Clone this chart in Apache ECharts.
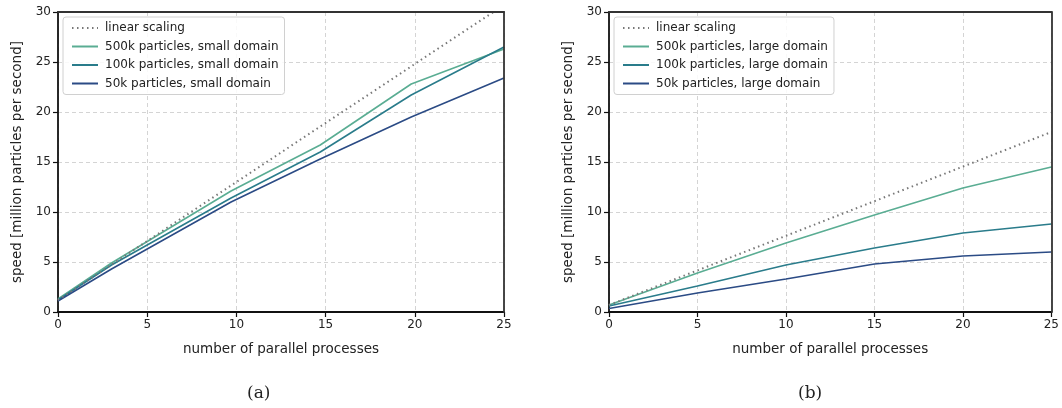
<!DOCTYPE html>
<html>
<head>
<meta charset="utf-8">
<script src="https://cdn.jsdelivr.net/npm/echarts@6/dist/echarts.min.js"></script>
<style>
  html, body { margin: 0; padding: 0; background: #fff; }
  #chart { width: 1062px; height: 408px; }
</style>
</head>
<body>
<div id="chart"></div>
<script>
// Number of parallel processes at each measurement
const procsSmall = [0, 3, 9.7, 14.7, 19.8, 25];
const procsLarge = [0, 5, 10, 15, 20, 25];

// Ideal scaling reference (start and end of the straight line)
const linearSmallX = [0, 25];
const linearSmallY = [1.2, 30.7];
const linearLargeX = [0, 25];
const linearLargeY = [0.7, 18.0];

// Speed in million particles per second, small domain
const small500k = [1.3, 4.9, 12.1, 16.7, 22.8, 26.3];
const small100k = [1.2, 4.7, 11.4, 16.0, 21.7, 26.5];
const small50k  = [1.1, 4.3, 11.0, 15.3, 19.5, 23.4];

// Speed in million particles per second, large domain
const large500k = [0.7, 3.9, 6.9, 9.7, 12.4, 14.5];
const large100k = [0.6, 2.6, 4.7, 6.4, 7.9, 8.8];
const large50k  = [0.35, 1.9, 3.3, 4.8, 5.6, 6.0];

const xTicks = [0, 5, 10, 15, 20, 25];
const yTicks = [0, 5, 10, 15, 20, 25, 30];

const namesSmall = ['500k particles, small domain', '100k particles, small domain', '50k particles, small domain'];
const namesLarge = ['500k particles, large domain', '100k particles, large domain', '50k particles, large domain'];
const colors = ['#5aad93', '#2a7c8b', '#2b4b85'];

const zip = (xs, ys) => xs.map((x, i) => [x, ys[i]]);

const FONT = 'DejaVu Sans';
const gridLine = { show: true, lineStyle: { color: '#d4d4d4', type: [4, 3], width: 1 } };

function xAxisFor(gi) {
  return {
    type: 'value', gridIndex: gi, min: 0, max: 25, interval: 5,
    name: 'number of parallel processes', nameLocation: 'middle', nameGap: 30,
    nameTextStyle: { fontFamily: FONT, fontSize: 13.5, color: '#222' },
    axisLine: { show: true, onZero: false, lineStyle: { color: '#111', width: 1.8 } },
    axisTick: { show: true, length: 5, lineStyle: { color: '#111', width: 1.2 } },
    axisLabel: { fontFamily: FONT, fontSize: 12, color: '#222', margin: 7,
      formatter: v => xTicks.includes(v) ? String(v) : '' },
    splitLine: gridLine
  };
}
function yAxisFor(gi) {
  return {
    type: 'value', gridIndex: gi, min: 0, max: 30, interval: 5,
    name: 'speed [million particles per second]', nameLocation: 'middle', nameGap: 34,
    nameTextStyle: { fontFamily: FONT, fontSize: 13.5, color: '#222' },
    axisLine: { show: true, onZero: false, lineStyle: { color: '#111', width: 1.8 } },
    axisTick: { show: true, length: 5, lineStyle: { color: '#111', width: 1.2 } },
    axisLabel: { fontFamily: FONT, fontSize: 12, color: '#222', margin: 7,
      formatter: v => yTicks.includes(v) ? String(v) : '' },
    splitLine: gridLine
  };
}
// Plain frame lines on the top and right edges of each panel
function frameAxis(gi, pos, isX) {
  return {
    type: 'value', gridIndex: gi, position: pos, min: 0, max: isX ? 25 : 30,
    axisLine: { show: true, onZero: false, lineStyle: { color: '#333', width: 1.8 } },
    axisTick: { show: false }, axisLabel: { show: false }, splitLine: { show: false }, z: 5
  };
}

function lineSeries(name, gi, xs, ys, color, dotted) {
  return {
    type: 'line', name, xAxisIndex: gi, yAxisIndex: gi,
    data: zip(xs, ys), symbol: 'none', clip: true, animation: false,
    lineStyle: dotted ? { color: '#777', width: 2, type: [1.5, 3.5] } : { color, width: 1.6 },
    itemStyle: { color: dotted ? '#777' : color },
    z: dotted ? 3 : 2
  };
}

function legendFor(left, names) {
  return {
    left, top: 17, orient: 'vertical',
    data: ['linear scaling'].concat(names),
    itemWidth: 26, itemHeight: 10, itemGap: 6.5,
    padding: [5, 6, 5, 8],
    itemStyle: { opacity: 0 },
    backgroundColor: 'rgba(255,255,255,0.85)',
    borderColor: '#d0d0d0', borderWidth: 1, borderRadius: 3,
    textStyle: { fontFamily: FONT, fontSize: 12, color: '#222', padding: [0, 0, 0, 2] },
    selectedMode: false
  };
}

const chart = echarts.init(document.getElementById('chart'), null, { renderer: 'canvas' });
chart.setOption({
  backgroundColor: '#fff',
  animation: false,
  grid: [
    { left: 58, top: 12, width: 446, height: 300 },
    { left: 609, top: 12, width: 447, height: 300 }
  ],
  xAxis: [xAxisFor(0), xAxisFor(1), frameAxis(0, 'top', true), frameAxis(1, 'top', true)],
  yAxis: [yAxisFor(0), yAxisFor(1), frameAxis(0, 'right', false), frameAxis(1, 'right', false)],
  legend: [legendFor(63, namesSmall), legendFor(614, namesLarge)],
  series: [
    lineSeries('linear scaling', 0, linearSmallX, linearSmallY, null, true),
    lineSeries(namesSmall[0], 0, procsSmall, small500k, colors[0]),
    lineSeries(namesSmall[1], 0, procsSmall, small100k, colors[1]),
    lineSeries(namesSmall[2], 0, procsSmall, small50k, colors[2]),
    lineSeries('linear scaling', 1, linearLargeX, linearLargeY, null, true),
    lineSeries(namesLarge[0], 1, procsLarge, large500k, colors[0]),
    lineSeries(namesLarge[1], 1, procsLarge, large100k, colors[1]),
    lineSeries(namesLarge[2], 1, procsLarge, large50k, colors[2])
  ],
  graphic: [
    { type: 'text', left: 247, top: 385, style: { text: '(a)', fontFamily: 'DejaVu Serif', fontSize: 17, fill: '#222' } },
    { type: 'text', left: 798, top: 385, style: { text: '(b)', fontFamily: 'DejaVu Serif', fontSize: 17, fill: '#222' } }
  ]
});
</script>
</body>
</html>
